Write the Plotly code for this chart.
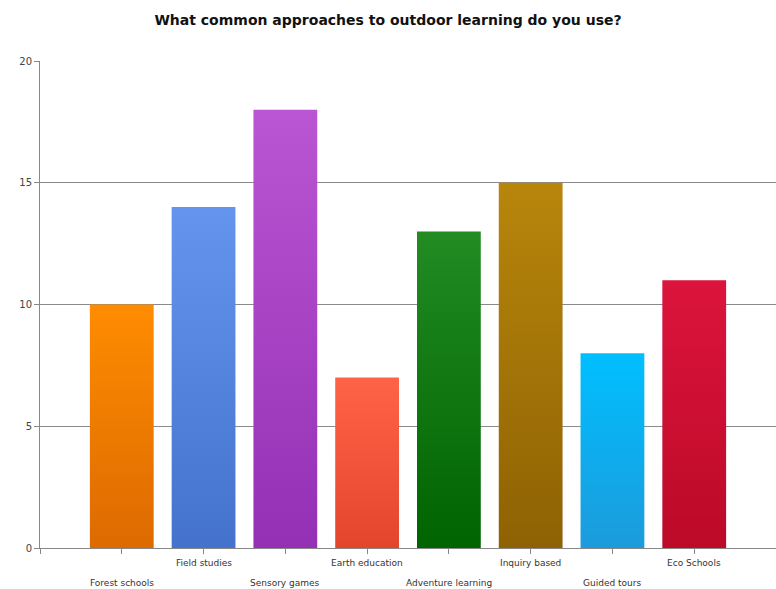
import plotly.graph_objects as go

# Survey results: approaches to outdoor learning
categories = ["Forest schools", "Field studies", "Sensory games", "Earth education",
              "Adventure learning", "Inquiry based", "Guided tours", "Eco Schools"]
counts = [10, 14, 18, 7, 13, 15, 8, 11]

# Gradient colours for each bar: (bottom, top)
bottom_colors = ["#DD6A00", "#4472CC", "#9430B4", "#E2452C", "#006400", "#8E6204", "#1C9BDC", "#BC0A28"]
top_colors = ["#FF8C00", "#6495ED", "#BA55D3", "#FF6347", "#228B22", "#B8860B", "#00BFFF", "#DC143C"]

y_ticks = [0, 5, 10, 15, 20]
bar_width = 0.78

fig = go.Figure()

for i, (name, val) in enumerate(zip(categories, counts)):
    half = bar_width / 2
    fig.add_trace(go.Scatter(
        x=[i - half, i - half, i + half, i + half, i - half],
        y=[0, val, val, 0, 0],
        mode="lines",
        line=dict(width=0),
        fill="toself",
        fillgradient=dict(
            type="vertical",
            colorscale=[[0, bottom_colors[i]], [1, top_colors[i]]],
        ),
        name=name,
        hoverinfo="skip",
        showlegend=False,
    ))

# Staggered category labels under the axis
for i, name in enumerate(categories):
    fig.add_annotation(
        x=i, xref="x", y=0, yref="paper",
        text=name, showarrow=False,
        yanchor="middle", yshift=-15 if i % 2 == 1 else -35,
        font=dict(family="DejaVu Sans, Verdana, sans-serif", size=9, color="#333333"),
    )

fig.update_layout(
    width=776, height=589,
    margin=dict(l=40, r=0, t=61, b=41),
    paper_bgcolor="white",
    plot_bgcolor="white",
    title=dict(
        text="<b>What common approaches to outdoor learning do you use?</b>",
        x=0.5, xanchor="center", y=1 - 20 / 589, yanchor="middle",
        font=dict(family="DejaVu Sans, Verdana, sans-serif", size=14, color="#111111"),
    ),
    xaxis=dict(
        range=[-1, 8],
        tickvals=list(range(-1, 9)),
        showticklabels=False,
        ticks="outside", ticklen=5, tickcolor="#888888",
        showgrid=False, zeroline=False,
        showline=True, linecolor="#888888", linewidth=1,
        fixedrange=True,
    ),
    yaxis=dict(
        range=[0, 20],
        tickvals=y_ticks,
        ticks="outside", ticklen=5, tickcolor="#888888",
        showgrid=True, gridcolor="#8a8a8a", gridwidth=1,
        zeroline=False,
        showline=True, linecolor="#888888", linewidth=1,
        tickfont=dict(family="DejaVu Sans, Verdana, sans-serif", size=10, color="#444444"),
        fixedrange=True,
    ),
)

fig.write_html("out.html")
